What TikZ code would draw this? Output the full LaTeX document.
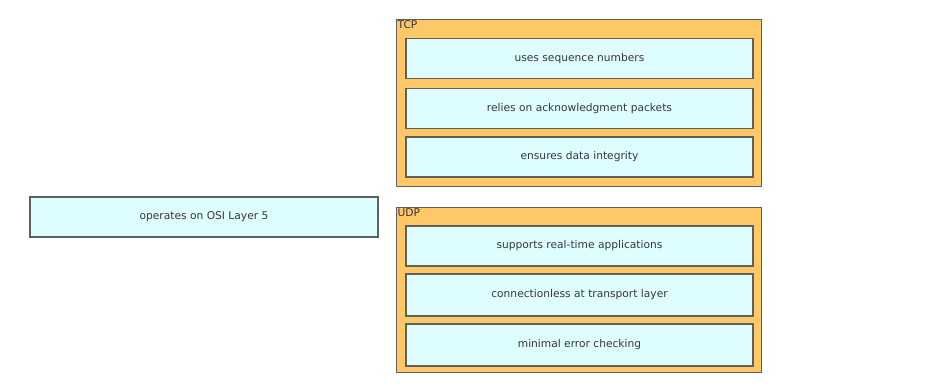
\documentclass[tikz,border=0pt]{standalone}
\usepackage{fontspec}
\setmainfont{DejaVu Sans}
\definecolor{grpfill}{RGB}{255,200,102}
\definecolor{itemfill}{RGB}{222,253,255}
\definecolor{edgegray}{RGB}{95,95,95}
\definecolor{txtgray}{RGB}{55,55,55}

\tikzset{
  group/.style={draw=edgegray, fill=grpfill, line width=0.8pt, anchor=north west, inner sep=0pt,
    minimum width=273.75pt},
  item/.style={draw=edgegray, fill=itemfill, line width=1pt, minimum width=260.25pt, minimum height=30pt,
    inner sep=0pt, text=txtgray, font=\fontsize{8}{9}\selectfont},
  grplabel/.style={anchor=north west, inner sep=1pt, text=txtgray, font=\fontsize{8}{9}\selectfont}
}

\begin{document}
\begin{tikzpicture}[x=0.75pt, y=-0.75pt]
  \useasboundingbox[fill=white] (0,0) rectangle (948,390);

  % TCP group
  \node[group, minimum height=125.25pt] (tcp) at (396,19) {};
  \node[grplabel] (tcplbl) at (396,19) {TCP};
  \node[item] (seq) at (579.5,58.5) {uses sequence numbers};
  \node[item] (ack) at (579.5,108.5) {relies on acknowledgment packets};
  \node[item] (integ) at (579.5,157) {ensures data integrity};

  % UDP group
  \node[group, minimum height=123.75pt] (udp) at (396,207) {};
  \node[grplabel] (udplbl) at (396,207) {UDP};
  \node[item] (rt) at (579.5,246) {supports real-time applications};
  \node[item, minimum height=31.5pt] (conn) at (579.5,295) {connectionless at transport layer};
  \node[item, minimum height=31.5pt] (minerr) at (579.5,345) {minimal error checking};

  % the item left to place
  \node[item, minimum width=261pt] (osi) at (204,217) {operates on OSI Layer 5};

\end{tikzpicture}
\end{document}
